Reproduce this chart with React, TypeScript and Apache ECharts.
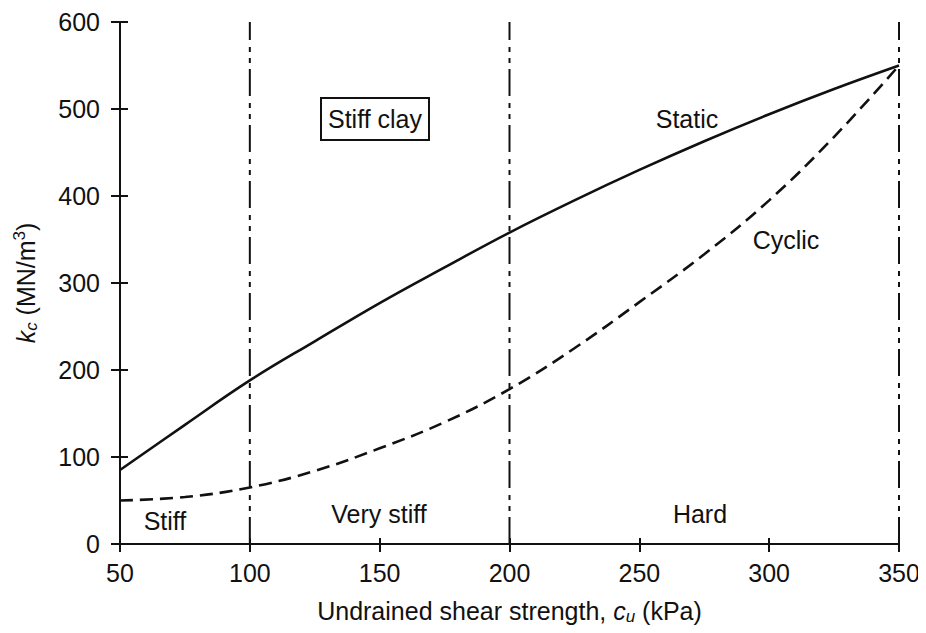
import React, { useEffect, useRef } from "react";
import * as echarts from "echarts";

// Undrained shear strength c_u (kPa)
const shearStrength = [50, 75, 100, 125, 150, 175, 200, 225, 250, 275, 300, 325, 350];
// Static subgrade modulus k_c (MN/m³)
const staticK = [85, 137, 188, 233, 277, 318, 358, 395, 430, 463, 494, 523, 550];
// Cyclic subgrade modulus k_c (MN/m³)
const cyclicK = [50, 54, 65, 84, 110, 140, 178, 225, 278, 333, 395, 468, 550];
// Consistency class boundaries (kPa)
const boundaries = [100, 200, 350];

const xTicks = [50, 100, 150, 200, 250, 300, 350];
const yTicks = [0, 100, 200, 300, 400, 500, 600];

const FONT = '"Liberation Sans", Arial, Helvetica, sans-serif';
const INK = "#111";
const FS = 25;

export default function App() {
  const ref = useRef<HTMLDivElement>(null);

  useEffect(() => {
    if (!ref.current) return;
    const chart = echarts.init(ref.current, null, { renderer: "svg" });

    const xMin = xTicks[0];
    const xMax = xTicks[xTicks.length - 1];
    const yMin = yTicks[0];
    const yMax = yTicks[yTicks.length - 1];

    const toPairs = (ys: number[]) => shearStrength.map((x, i) => [x, ys[i]]);

    const baseX = {
      type: "value" as const,
      min: xMin,
      max: xMax,
      interval: 50,
      splitLine: { show: false },
    };
    const baseY = {
      type: "value" as const,
      min: yMin,
      max: yMax,
      interval: 100,
      splitLine: { show: false },
    };

    const textStyle = { fontFamily: FONT, fontSize: FS, fill: INK };

    chart.setOption({
      animation: false,
      backgroundColor: "#fff",
      grid: { left: 120, right: 27, top: 22, bottom: 89 },
      xAxis: [
        {
          ...baseX,
          position: "bottom",
          axisLine: { show: true, onZero: false, lineStyle: { color: INK, width: 2 } },
          axisTick: { show: true, inside: false, length: 8, lineStyle: { color: INK, width: 2 } },
          axisLabel: { color: INK, fontFamily: FONT, fontSize: FS, margin: 16 },
          name: "Undrained shear strength, {i|c}{sub|u} (kPa)",
          nameLocation: "middle",
          nameGap: 52,
          nameTextStyle: {
            color: INK,
            fontFamily: FONT,
            fontSize: FS,
            rich: {
              i: { fontFamily: FONT, fontSize: FS, fontStyle: "italic", color: INK },
              sub: {
                fontFamily: FONT,
                fontSize: 17,
                fontStyle: "italic",
                color: INK,
                padding: [12, 0, 0, 0],
              },
            },
          },
        },
        {
          ...baseX,
          position: "bottom",
          axisLine: { show: false },
          axisTick: { show: true, inside: true, length: 6, lineStyle: { color: INK, width: 2 } },
          axisLabel: { show: false },
        },
      ],
      yAxis: [
        {
          ...baseY,
          position: "left",
          axisLine: { show: true, onZero: false, lineStyle: { color: INK, width: 2 } },
          axisTick: { show: true, inside: false, length: 9, lineStyle: { color: INK, width: 2 } },
          axisLabel: { color: INK, fontFamily: FONT, fontSize: FS, margin: 20 },
          name: "{i|k}{sub|c} (MN/m{sup|3})",
          nameLocation: "middle",
          nameGap: 80,
          nameRotate: 90,
          nameTextStyle: {
            color: INK,
            fontFamily: FONT,
            fontSize: FS,
            rich: {
              i: { fontFamily: FONT, fontSize: FS, fontStyle: "italic", color: INK },
              sub: {
                fontFamily: FONT,
                fontSize: 17,
                fontStyle: "italic",
                color: INK,
                padding: [12, 0, 0, 0],
              },
              sup: {
                fontFamily: FONT,
                fontSize: 17,
                color: INK,
                padding: [0, 0, 12, 0],
              },
            },
          },
        },
        {
          ...baseY,
          position: "left",
          axisLine: { show: false },
          axisTick: { show: true, inside: true, length: 8, lineStyle: { color: INK, width: 2 } },
          axisLabel: { show: false },
        },
      ],
      series: [
        ...boundaries.map((b) => ({
          type: "line",
          name: `boundary-${b}`,
          xAxisIndex: 0,
          yAxisIndex: 0,
          data: [
            [b, yMin],
            [b, yMax],
          ],
          symbol: "none",
          silent: true,
          lineStyle: { color: INK, width: 2, type: [27, 6, 5, 6, 5, 7] },
        })),
        {
          type: "line",
          name: "Static",
          data: toPairs(staticK),
          smooth: 0.4,
          symbol: "none",
          lineStyle: { color: INK, width: 2.6, type: "solid" },
        },
        {
          type: "line",
          name: "Cyclic",
          data: toPairs(cyclicK),
          smooth: 0.4,
          symbol: "none",
          lineStyle: { color: INK, width: 2.6, type: [13, 7] },
        },
      ],
      graphic: [
        {
          type: "rect",
          shape: { x: 321, y: 98, width: 108, height: 42 },
          style: { fill: "#fff", stroke: INK, lineWidth: 2 },
        },
        {
          type: "text",
          x: 375,
          y: 119,
          style: { ...textStyle, text: "Stiff clay", align: "center", verticalAlign: "middle" },
        },
        {
          type: "text",
          x: 687,
          y: 119,
          style: { ...textStyle, text: "Static", align: "center", verticalAlign: "middle" },
        },
        {
          type: "text",
          x: 786,
          y: 240,
          style: { ...textStyle, text: "Cyclic", align: "center", verticalAlign: "middle" },
        },
        {
          type: "text",
          x: 165,
          y: 521,
          style: { ...textStyle, text: "Stiff", align: "center", verticalAlign: "middle" },
        },
        {
          type: "text",
          x: 379,
          y: 514,
          style: { ...textStyle, text: "Very stiff", align: "center", verticalAlign: "middle" },
        },
        {
          type: "text",
          x: 700,
          y: 514,
          style: { ...textStyle, text: "Hard", align: "center", verticalAlign: "middle" },
        },
      ],
    });

    return () => chart.dispose();
  }, []);

  return <div ref={ref} style={{ width: 926, height: 633, margin: -8 }} />;
}
